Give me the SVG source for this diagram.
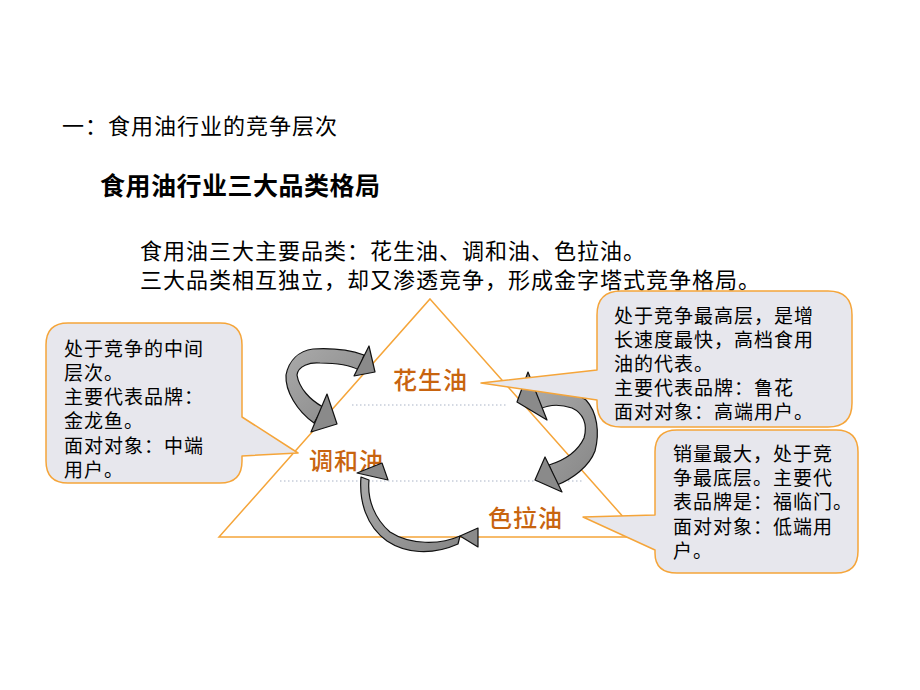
<svg xmlns="http://www.w3.org/2000/svg" width="920" height="690" viewBox="0 0 920 690">
<defs>
<linearGradient id="g" x1="0" y1="0" x2="1" y2="1">
<stop offset="0" stop-color="#aaaaaa"/>
<stop offset="1" stop-color="#868686"/>
</linearGradient>
<style>
.t{font-family:"Noto Sans CJK SC","Noto Sans CJK JP",sans-serif;fill:#000}
.h1{font-size:22px;letter-spacing:1px}
.h2{font-size:25px;font-weight:bold;letter-spacing:0.5px}
.body{font-size:22px;letter-spacing:1px}
.c{font-size:19px;letter-spacing:1px}
.lab{font-family:"Noto Sans CJK SC",sans-serif;font-size:24px;font-weight:500;letter-spacing:1px;fill:#C8640F}
.tri{fill:none;stroke:#F5A53A;stroke-width:1.5}
.dot{stroke:#A9B3C6;stroke-width:1;stroke-dasharray:1.5 2.5}
.band{fill:url(#g);stroke:#111;stroke-width:1.2;stroke-linejoin:round}
.head{fill:#8a8a8a;stroke:#111;stroke-width:1.2;stroke-linejoin:round}
.call{fill:#E7E7ED;stroke:#F5A53A;stroke-width:1.5;stroke-linejoin:round}
</style>
</defs>
<rect width="920" height="690" fill="#fff"/>
<g id="titles">
<text class="t h1" x="62" y="134">一：食用油行业的竞争层次</text>
<text class="t h2" x="100" y="195">食用油行业三大品类格局</text>
<text class="t body" x="140" y="259">食用油三大主要品类：花生油、调和油、色拉油。</text>
<text class="t body" x="140" y="288">三大品类相互独立，却又渗透竞争，形成金字塔式竞争格局。</text>
</g>
<g id="pyramid">
<polygon class="tri" points="430,299 641,537 219,537"/>
<line class="dot" x1="352" y1="405" x2="508" y2="405"/>
<line class="dot" x1="280" y1="481" x2="582" y2="481"/>
</g>
<g id="node-huasheng"><text class="lab" x="393" y="389">花生油</text></g>
<g id="node-tiaohe"><text class="lab" x="309" y="470">调和油</text></g>
<g id="node-sela"><text class="lab" x="488" y="527">色拉油</text></g>
<g id="connectors">
<path class="band" d="M364,355 C350,350 330,348 313,349 C299,351 289,360 286,375 C285,391 297,411 314,423 L323,407 C310,400 299,388 297,375 C298,366 310,362 320,363 C335,363 350,365 359,370 Z"/>
<polygon class="head" points="369,346 375,372 354,376"/>
<polygon class="head" points="327,394 337,424 311,432"/>
<path class="band" d="M530,391 C548,389 573,391 586,400 C597,412 600,432 595,451 C589,467 572,479 557,485 L549,465 C565,460 578,451 584,438 C588,424 583,413 572,408 C560,404 548,405 540,409 Z"/>
<polygon class="head" points="528,372 517,402 547,420"/>
<polygon class="head" points="545,457 535,480 562,492"/>
<path class="band" d="M361,477 C359,501 366,526 387,541 C405,553 431,556 458,544 L460,536 C440,545 410,545 390,532 C375,519 367,500 369,480 Z"/>
<polygon class="head" points="357,473 382,463 388,480"/>
<polygon class="head" points="460,536 478,528 478,547"/>
</g>
<g id="callout-left">
<path class="call" d="M68,323 H220 Q242,323 242,345 V417 L298,453 L242,456 V461 Q242,483 220,483 H68 Q46,483 46,461 V345 Q46,323 68,323 Z"/>
<text class="t c" x="64" y="356">处于竞争的中间</text>
<text class="t c" x="64" y="380">层次。</text>
<text class="t c" x="64" y="404">主要代表品牌：</text>
<text class="t c" x="64" y="428">金龙鱼。</text>
<text class="t c" x="64" y="453">面对对象：中端</text>
<text class="t c" x="64" y="477">用户。</text>
</g>
<g id="callout-top">
<path class="call" d="M621,291 H828 Q852,291 852,315 V403 Q852,427 828,427 H621 Q597,427 597,403 V400 L481,383 L597,370 V315 Q597,291 621,291 Z"/>
<text class="t c" x="614" y="323">处于竞争最高层，是增</text>
<text class="t c" x="614" y="347">长速度最快，高档食用</text>
<text class="t c" x="614" y="371">油的代表。</text>
<text class="t c" x="614" y="395">主要代表品牌：鲁花</text>
<text class="t c" x="614" y="419">面对对象：高端用户。</text>
</g>
<g id="callout-bottom">
<path class="call" d="M677,430 H836 Q858,430 858,452 V551 Q858,573 836,573 H677 Q655,573 655,553 V550 L583,517 L655,515 V452 Q655,430 677,430 Z"/>
<text class="t c" x="673" y="461">销量最大，处于竞</text>
<text class="t c" x="673" y="485">争最底层。主要代</text>
<text class="t c" x="673" y="509">表品牌是：福临门。</text>
<text class="t c" x="673" y="534">面对对象：低端用</text>
<text class="t c" x="673" y="558">户。</text>
</g>
</svg>
